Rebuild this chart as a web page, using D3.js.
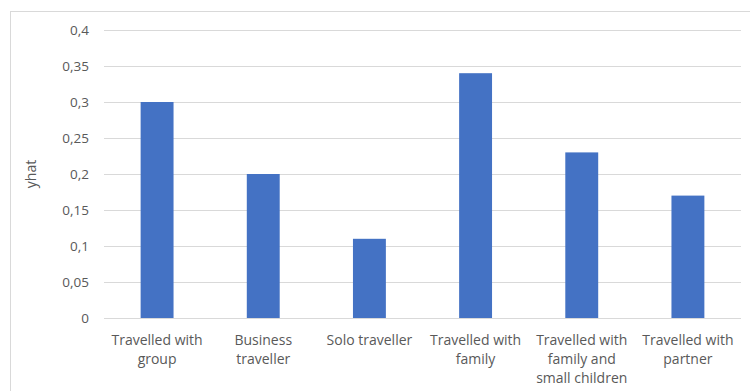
<!DOCTYPE html>
<html><head><meta charset="utf-8">
<script src="https://cdn.jsdelivr.net/npm/d3@7"></script>
<style>body{margin:0;background:#fff}svg{display:block}</style>
</head><body>
<script>
const categories = [
  ["Travelled with", "group"],
  ["Business", "traveller"],
  ["Solo traveller"],
  ["Travelled with", "family"],
  ["Travelled with", "family and", "small children"],
  ["Travelled with", "partner"]
];
const values = [0.30, 0.20, 0.11, 0.34, 0.23, 0.17];
const yTicks = [0, 0.05, 0.1, 0.15, 0.2, 0.25, 0.3, 0.35, 0.4];
const yTickLabels = ["0", "0,05", "0,1", "0,15", "0,2", "0,25", "0,3", "0,35", "0,4"];
const yTitle = "yhat";

(function() {
const W = 750, H = 391;
const mLeft = 104, mRight = 741, mTop = 30, mBottom = 318;
const font = "'Open Sans', sans-serif";
const svg = d3.select("body").append("svg").attr("width", W).attr("height", H);

svg.append("rect").attr("x", 10.5).attr("y", 11.5).attr("width", 760).attr("height", 400)
  .attr("fill", "#fff").attr("stroke", "#d9d9d9").attr("stroke-width", 1);

const x = d3.scaleBand().domain(d3.range(categories.length)).range([mLeft, mRight]).paddingInner(0.69).paddingOuter(0.345);
const y = d3.scaleLinear().domain([0, 0.4]).range([mBottom, mTop]);

const yAxis = d3.axisLeft(y).tickValues(yTicks).tickSize(-(mRight - mLeft)).tickPadding(15)
  .tickFormat((d, i) => yTickLabels[i]);
const gy = svg.append("g").attr("transform", `translate(${mLeft},0)`).call(yAxis);
gy.select(".domain").remove();
gy.selectAll(".tick line").attr("stroke", "#d9d9d9").attr("stroke-width", 1);
gy.selectAll(".tick text").attr("fill", "#595959").style("font-family", font).style("font-size", "13.5px");

svg.append("g").selectAll("rect").data(values).join("rect")
  .attr("x", (d, i) => x(i)).attr("width", x.bandwidth())
  .attr("y", d => y(d)).attr("height", d => y(0) - y(d))
  .attr("fill", "#4472c4");

const xb = d3.scaleBand().domain(d3.range(categories.length)).range([mLeft, mRight]);
const lbl = svg.append("g").selectAll("text").data(categories).join("text")
  .attr("text-anchor", "middle").attr("fill", "#595959")
  .style("font-family", font).style("font-size", "14px");
lbl.each(function(lines, i) {
  const t = d3.select(this);
  lines.forEach((s, j) => {
    t.append("tspan").attr("x", xb(i) + xb.bandwidth() / 2).attr("y", 345 + j * 19).text(s);
  });
});

svg.append("text").attr("transform", `translate(36,${(mTop + mBottom) / 2}) rotate(-90)`)
  .attr("text-anchor", "middle").attr("fill", "#595959")
  .style("font-family", font).style("font-size", "14px").text(yTitle);
})();
</script>
</body></html>
